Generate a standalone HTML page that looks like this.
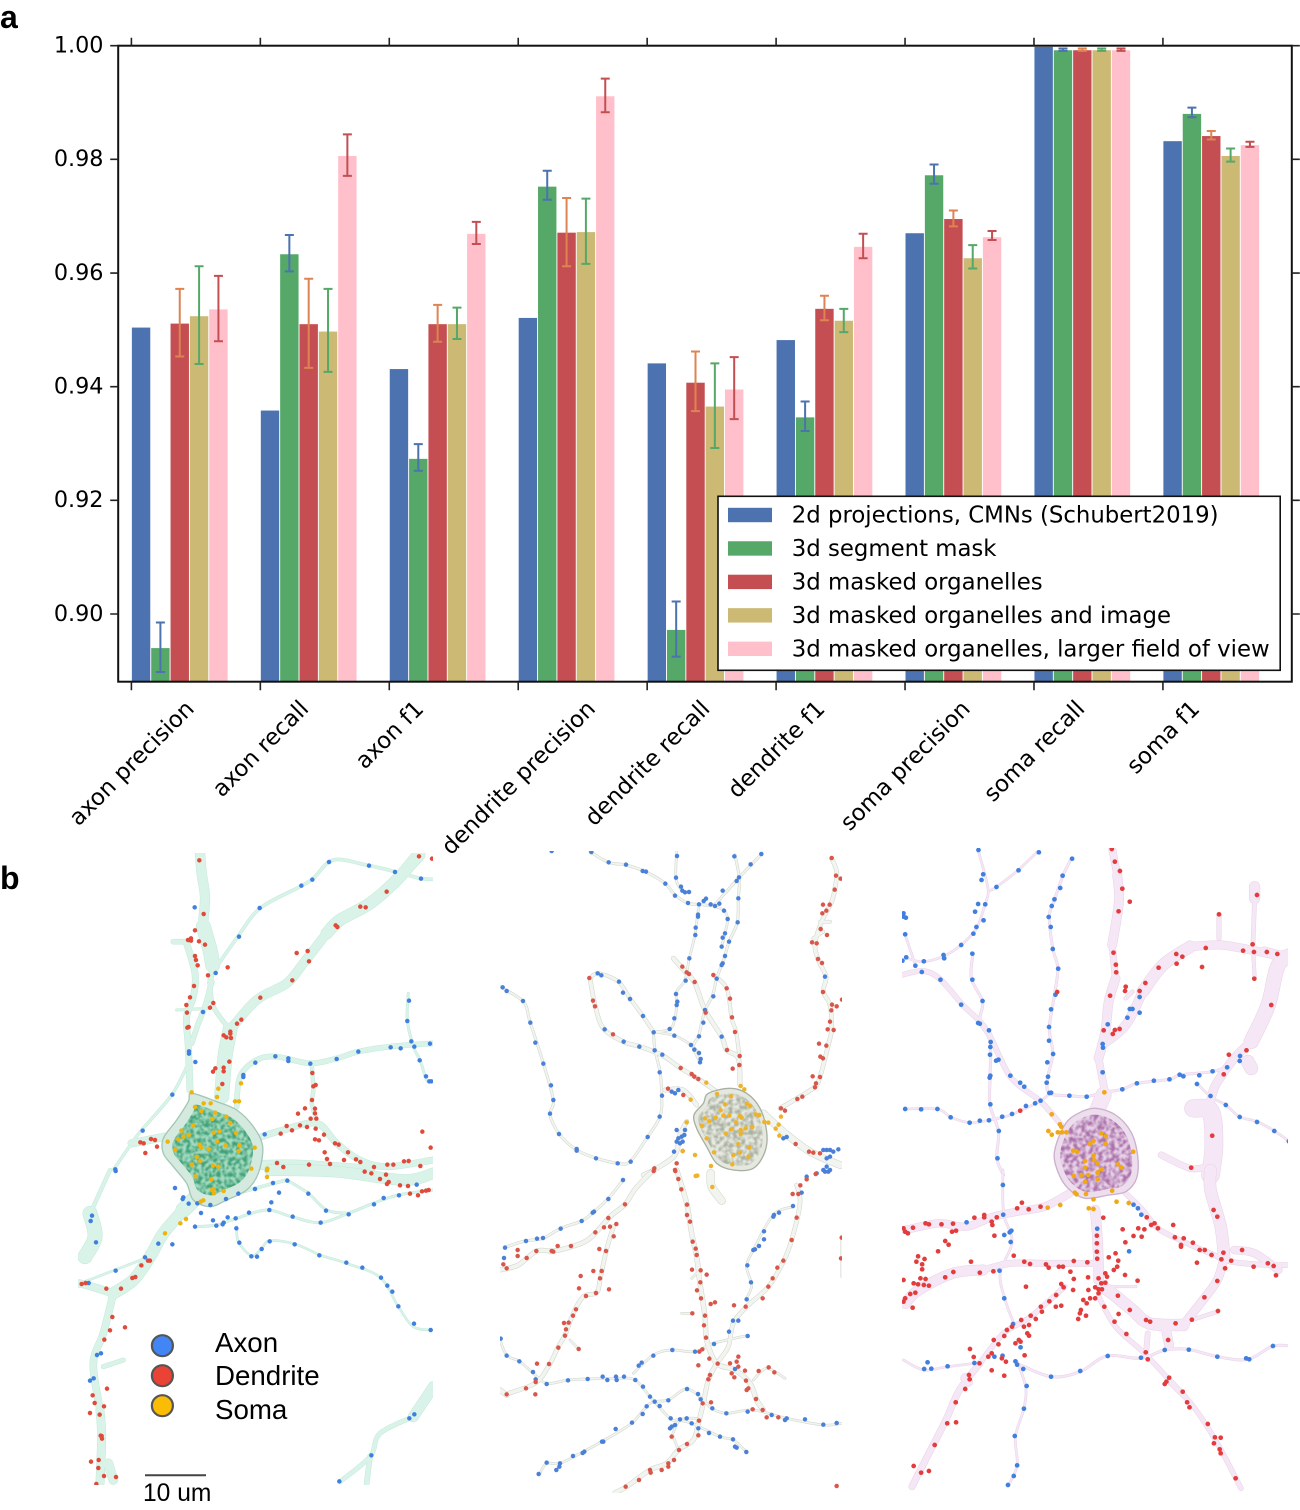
<!DOCTYPE html>
<html lang="en">
<head>
<meta charset="utf-8">
<title>Neuron compartment classification</title>
<style>
html,body{margin:0;padding:0;background:#fff;}
svg{display:block;}
text{font-family:"DejaVu Sans",sans-serif;fill:#000;}
.sans{font-family:"Liberation Sans",sans-serif;}
</style>
</head>
<body>
<svg id="fig" xmlns="http://www.w3.org/2000/svg" width="1300" height="1510" viewBox="0 0 1300 1510">
<defs>
<filter id="mottle" x="0" y="0" width="1" height="1">
<feTurbulence type="fractalNoise" baseFrequency="0.07" numOctaves="3" seed="4" result="n"/>
<feColorMatrix in="n" type="matrix" values="0 0 0 0 0 0 0 0 0 0 0 0 0 0 0 3.2 0 0 0 -1.15" result="a"/>
<feGaussianBlur in="a" stdDeviation="1.5" result="b"/>
<feComposite in="SourceGraphic" in2="b" operator="in"/>
</filter>
<clipPath id="clip-plot"><rect x="118" y="46" width="1174" height="636"/></clipPath>
<clipPath id="clip-p1"><rect x="78" y="853" width="355" height="632"/></clipPath>
<clipPath id="clip-p2"><rect x="500" y="851" width="342" height="642"/></clipPath>
<clipPath id="clip-p3"><rect x="902" y="848" width="386" height="643"/></clipPath>
</defs>
<rect width="1300" height="1510" fill="#fff"/>
<text class="sans" x="0" y="28" font-size="32" font-weight="700">a</text>
<text class="sans" x="0" y="889" font-size="32" font-weight="700">b</text>
<g id="chart"></g>
<g id="panels"></g>
<g>
<circle cx="162.4" cy="1345.7" r="10.5" fill="#4285f4" stroke="#555" stroke-width="2.2"/>
<circle cx="162.4" cy="1375.7" r="10.5" fill="#ea4335" stroke="#555" stroke-width="2.2"/>
<circle cx="162.4" cy="1405.7" r="10.5" fill="#fbbc05" stroke="#555" stroke-width="2.2"/>
<text class="sans" x="215" y="1352" font-size="27.7">Axon</text>
<text class="sans" x="215" y="1385" font-size="27.7">Dendrite</text>
<text class="sans" x="215" y="1419" font-size="27.7">Soma</text>
</g>
<line x1="145" x2="206" y1="1475.3" y2="1475.3" stroke="#444" stroke-width="2"/>
<text class="sans" x="143" y="1501" font-size="24.6">10 um</text>
</svg>
<script>
/* ---------- chart data ---------- */
const categories = ["axon precision","axon recall","axon f1","dendrite precision","dendrite recall","dendrite f1","soma precision","soma recall","soma f1"];
const seriesNames = ["2d projections, CMNs (Schubert2019)","3d segment mask","3d masked organelles","3d masked organelles and image","3d masked organelles, larger field of view"];
const yTickLabels = ["1.00","0.98","0.96","0.94","0.92","0.90"];
const projections2d = [0.9504,0.9358,0.9431,0.9521,0.9441,0.9482,0.9670,0.9998,0.9832];
const segmentMask = [0.8940,0.9633,0.9273,0.9752,0.8972,0.9346,0.9772,0.9992,0.9880];
const segmentMaskHigh = [0.8985,0.9667,0.9299,0.9780,0.9022,0.9374,0.9791,0.9995,0.9891];
const segmentMaskLow = [0.8898,0.9603,0.9252,0.9729,0.8925,0.9322,0.9757,0.9991,0.9874];
const maskedOrganelles = [0.9511,0.9510,0.9510,0.9671,0.9407,0.9537,0.9695,0.9992,0.9841];
const maskedOrganellesHigh = [0.9572,0.9590,0.9544,0.9732,0.9462,0.9560,0.9710,0.9995,0.9850];
const maskedOrganellesLow = [0.9453,0.9433,0.9479,0.9612,0.9357,0.9517,0.9682,0.9991,0.9835];
const organellesImage = [0.9524,0.9497,0.9510,0.9672,0.9365,0.9516,0.9626,0.9992,0.9806];
const organellesImageHigh = [0.9612,0.9572,0.9539,0.9731,0.9441,0.9537,0.9649,0.9995,0.9819];
const organellesImageLow = [0.9440,0.9426,0.9484,0.9616,0.9292,0.9496,0.9608,0.9991,0.9796];
const largerField = [0.9536,0.9806,0.9669,0.9911,0.9395,0.9646,0.9663,0.9992,0.9825];
const largerFieldHigh = [0.9595,0.9844,0.9690,0.9942,0.9452,0.9669,0.9674,0.9995,0.9831];
const largerFieldLow = [0.9480,0.9771,0.9651,0.9883,0.9343,0.9626,0.9658,0.9991,0.9822];

const NS = "http://www.w3.org/2000/svg";
const chart = document.getElementById("chart");
function mk(tag, parent, attrs){
  const e = document.createElementNS(NS, tag);
  for (const k in attrs) e.setAttribute(k, attrs[k]);
  parent.appendChild(e);
  return e;
}
const plotL = 118.2, plotR = 1291.8, plotT = 45.7, plotB = 681.7;
const yMax = 1, pxPerUnit = 5683;
const groupStart = 131.4, groupStep = 128.94, barStep = 19.34, barW = 18.4;
const tickFont = 22.3, xLabelFont = 22.8, legendFont = 22.8;
function yScale(v){ return plotT + (yMax - v) * pxPerUnit; }
function xBand(g, s){ return groupStart + g * groupStep + (s + 0.5) * barStep; }

const seriesSet = [
  {values:projections2d, color:"#4C72B0"},
  {values:segmentMask, high:segmentMaskHigh, low:segmentMaskLow, color:"#55A868", err:"#4C72B0"},
  {values:maskedOrganelles, high:maskedOrganellesHigh, low:maskedOrganellesLow, color:"#C44E52", err:"#DD8452"},
  {values:organellesImage, high:organellesImageHigh, low:organellesImageLow, color:"#CCB974", err:"#55A868"},
  {values:largerField, high:largerFieldHigh, low:largerFieldLow, color:"#FFC0CB", err:"#C44E52"}
];

const barsGroup = mk("g", chart, {"clip-path":"url(#clip-plot)"});


seriesSet.forEach(function(s){
  s.values.forEach(function(v, g){
    const si = seriesSet.indexOf(s);
    const cx = xBand(g, si);
    const r = mk("rect", barsGroup, {x:cx - barW/2, y:yScale(v), width:barW, height:plotB - yScale(v), fill:s.color});
    
    
  });
});
seriesSet.forEach(function(s, si){
  if (!s.high) return;
  s.values.forEach(function(v, g){
    const cx = xBand(g, si);
    const hi = yScale(s.high[g]), lo = yScale(s.low[g]);
    const eb = mk("path", barsGroup, {d:"M"+(cx-4.5)+" "+hi+"H"+(cx+4.5)+"M"+cx+" "+hi+"V"+lo+"M"+(cx-4.5)+" "+lo+"H"+(cx+4.5), fill:"none", stroke:s.err, "stroke-width":2});
    
    
  });
});

const spines = mk("rect", chart, {x:plotL, y:plotT, width:plotR-plotL, height:plotB-plotT, fill:"none", stroke:"#111", "stroke-width":2});



yTickLabels.forEach(function(lbl){
  const y = yScale(parseFloat(lbl));
  const t1 = mk("path", chart, {d:"M"+(plotL-8)+" "+y+"H"+plotL+"M"+plotR+" "+y+"H"+(plotR+8), stroke:"#222", "stroke-width":1.6});
  
  
  const t = mk("text", chart, {x:103.5, y:y+6.8, "text-anchor":"end", "font-size":tickFont});
  t.textContent = lbl;
  
  
});

categories.forEach(function(c, g){
  const x = groupStart + g * groupStep;
  const tk = mk("path", chart, {d:"M"+x+" "+(plotT-8)+"V"+plotT+"M"+x+" "+plotB+"V"+(plotB+8.5), stroke:"#222", "stroke-width":1.6});
  
  
  const t = mk("text", chart, {"text-anchor":"middle", "font-size":xLabelFont, x:0, y:0});
  t.textContent = c;
  
  
  const L = t.getComputedTextLength();
  const half = (L + xLabelFont) * 0.7071 / 2;
  const cy = 696.5 + half;
  t.setAttribute("transform", "translate("+x+" "+cy+") rotate(-45) translate(0 7.8)");
});

const legend = mk("g", chart, {});


const legendBox = mk("rect", legend, {x:718, y:496.3, width:562.2, height:174, fill:"#fff", stroke:"#111", "stroke-width":1.6});


seriesNames.forEach(function(n, i){
  const cy = 515 + i * 33.45;
  const sw = mk("rect", legend, {x:728, y:cy-7.2, width:44, height:14.4, fill:seriesSet[i].color});
  
  
  const t = mk("text", legend, {x:791.8, y:cy+7.5, "font-size":legendFont});
  t.textContent = n;
  
  
});

/* ---------- neuron renderings (illustrative) ---------- */
const panels = [
 {name:"neuron-panel-green", clip:"clip-p1", edge:"#c2e9d8", body:"#d9f3e8", dot:13.5, blue:"#3f7fe0", red:"#df4a3a", yellow:"#eeb30c",
  soma:{outline:"365,730 440,755 500,780 550,830 578,890 565,970 530,1020 470,1050 420,1070 370,1050 350,1000 310,950 280,910 280,865 320,810 355,755",
        fill:"#d4eadf",stroke:"#a4c6b6",ox:432,oy:900,k:0.8,ifill:"#3fa076",base:"#a6dcc3"},
  crops:[
   {tx:70,ty:850,sx:1/3,
    tubes:[[28,"390,10 395,70 405,140 400,210"],[42,"400,230 420,300 428,345"],[14,"428,345 420,400"],[18,"350,280 375,370 370,440 350,500 355,590 360,720"],[14,"310,275 350,275"],[14,"425,395 405,470 385,520 365,580"],[42,"455,740 465,620 480,540"],[26,"480,540 560,450 650,400 700,340 770,250"],[34,"770,250 810,210 900,160 980,90 1040,20"],[12,"480,540 430,470 420,410"],[8,"440,350 500,265 570,175 690,110 730,85 790,30 890,45 975,65 1050,85 1090,88"],[14,"500,770 510,680 560,630 620,620 720,640 800,625 865,605 960,590 1090,580"],[6,"1015,430 1012,510 1030,590 1050,630 1070,690 1085,695"],[10,"725,640 730,720 725,760 740,810"],[18,"575,860 640,840 740,820 800,880 870,930 950,950 1090,930"],[28,"575,945 700,945 900,960"],[7,"130,960 185,880 215,840 305,735 355,640"],[22,"185,880 285,860"],[6,"320,480 420,475"],[30,"1000,70 1050,15"]],
    blue:"374,172 569,174 694,107 727,89 777,36 897,47 975,66 1053,86 507,260 437,369 399,486 357,604 357,611 376,636 307,734 218,842 136,958 584,853 520,675 520,681 556,638 616,619 655,625 655,633 721,641 800,627 865,605 962,592 992,595 1033,590 1080,581 1024,574 1012,513 1017,452 1049,631 1068,679 1078,694 1084,694",
    red:"388,31 1047,19 1086,26 950,125 871,170 887,172 797,226 802,231 401,192 375,241 354,270 363,265 363,272 387,274 405,284 375,318 378,330 383,346 473,352 414,376 372,408 360,442 349,465 351,488 430,459 420,473 352,533 356,531 514,509 501,521 481,545 481,551 461,556 469,562 483,564 571,443 667,391 717,334 713,303 680,309 478,635 461,653 461,664 436,655 429,665 457,702 727,669 730,709 737,705 726,750 735,776 705,775 684,791 722,806 739,806 735,790 711,831 690,826 650,828 632,851 666,841 737,836 762,854 735,868 747,871 795,880 806,884 834,907 764,907 771,927 780,942 822,930 858,928 871,936 912,951 952,944 970,944 1002,934 1016,933 1051,948 1057,845 1082,893 243,867 255,870 211,877 221,880 261,890 226,909 621,939 640,951 717,944",
    yellow:"365,727 445,716 441,741 513,700 495,754 507,754 375,771 401,760 422,760 394,783 436,788 427,807 469,800 369,826 334,842 449,844 431,848 341,860 356,855 325,868 293,875 315,900 481,819 498,849 441,874 388,884 393,893 416,897 467,886 508,885 506,903 554,893 380,921 391,933 366,944 429,947 445,950 544,956 592,956"},
   {tx:70,ty:1170,sx:1/3,
    tubes:[[44,"400,60 340,120"],[34,"340,120 280,190 240,260 190,330 130,370"],[22,"130,370 50,345 25,340"],[20,"130,370 100,490 70,580 90,720"],[24,"90,720 95,800 90,940"],[10,"120,0 70,110"],[42,"60,130 75,200 45,260"],[5,"30,340 135,300 225,265"],[6,"375,170 440,165 500,145 590,120 665,140 750,158 835,130 910,100 985,75 1090,60"],[5,"500,170 505,215 545,258 575,235 600,212 675,222 750,255 830,280 930,322 985,410 1030,470 1085,480"],[6,"650,30 715,70 770,120 835,130"],[8,"500,70 555,55 610,40 650,30"],[30,"1090,650 1030,740"],[12,"1030,740 930,790 900,860 810,935"],[14,"900,860 890,940"],[32,"600,0 800,5 1000,30 1090,10"],[12,"100,590 160,570"],[26,"115,880 130,930"]],
    blue:"137,3 315,54 340,82 338,87 356,101 382,100 421,105 393,129 468,87 505,71 555,57 609,39 627,68 652,32 715,71 768,122 836,133 912,103 941,84 987,76 1040,44 604,97 598,120 537,128 497,145 473,142 429,151 439,167 458,163 461,158 375,170 499,175 508,218 544,259 561,260 575,237 599,214 674,223 748,256 829,278 877,293 933,323 952,347 967,365 985,409 1032,461 1082,480 668,140 752,158 307,223 265,221 225,262 66,137 62,153 78,217 137,302 56,339 81,555 93,550 60,632 71,625 1018,745 1033,733 904,856 808,934",
    red:"884,5 904,10 948,14 930,27 956,36 951,42 990,46 1014,48 1020,71 1044,76 1056,64 1068,62 1076,60 240,272 234,272 214,286 196,321 187,324 35,342 47,339 109,356 153,356 127,441 165,472 120,481 103,509 111,656 68,676 74,699 102,709 60,729 89,734 92,797 95,798 96,806 63,875 86,870 85,894 102,918 138,921 79,942",
    yellow:"377,19 424,28 430,57 426,60 432,70 461,63 591,1 591,21 392,95 400,91 348,147 331,160 285,190"}
  ]},
 {name:"neuron-panel-grey", clip:"clip-p2", edge:"#ccd3c8", body:"#f1f4ef", dot:13.5, blue:"#4a80d8", red:"#d9574a", yellow:"#eeb32a",
  soma:{outline:"655,745 720,730 770,745 810,790 830,860 825,920 790,970 730,975 680,955 650,905 620,850 612,810 640,775",
        fill:"#e4e8de",stroke:"#a8b0a2",ox:722,oy:855,k:0.88,ifill:"#a9b0a0",base:"#e8ebe3"},
  crops:[
   {tx:490,ty:845,sx:1/3,
    tubes:[[6,"30,425 100,470 120,530 160,655 190,765 180,810 210,870 260,915 320,940 385,955 420,950 470,880 510,815 515,750 510,680 495,615 490,560"],[6,"300,20 355,52 408,60 465,80 525,115 555,150 595,175 628,178 670,180 700,150 745,100 815,27"],[5,"560,20 558,100 575,135 597,142"],[5,"628,178 622,215 615,270 598,340 585,405 560,440 560,480 555,520 540,552 490,562"],[6,"735,30 748,100 745,160 742,232 717,290 705,332 695,360 680,400 668,450 645,495 635,535 625,575 610,605 630,650"],[5,"660,180 700,195 713,222 705,265 695,305"],[9,"300,400 325,385 385,410 420,460 460,515 490,560"],[11,"300,400 315,480 340,550 400,590 450,605 515,630 570,668 625,702 680,740"],[12,"550,340 590,385 615,415 645,495 695,575 710,615 745,640 750,720"],[9,"670,390 710,430 725,520 738,560 748,630"],[5,"490,560 553,572 603,600 627,625"],[11,"870,790 930,755 975,725 990,695 1015,600 1025,550 1020,480 1000,440 1008,395 985,345 975,295 995,230 1025,170 1035,130 1040,80 1025,40"],[20,"820,805 880,860 960,920 1050,960"],[12,"525,735 580,735 620,780"],[12,"590,830 570,870 555,930 500,970 460,990"],[8,"990,230 1020,230"],[8,"970,280 1000,260"]],
    blue:"185,18 304,21 356,52 408,59 458,78 468,80 526,116 555,152 594,174 627,178 561,33 558,98 573,125 577,137 585,142 597,141 641,168 648,161 662,178 675,183 688,176 698,137 740,108 747,97 782,58 814,27 733,34 702,197 713,222 624,209 624,215 617,248 616,270 598,340 705,265 698,278 717,290 695,305 705,333 698,355 695,360 745,160 743,232 680,401 670,454 645,495 640,533 627,574 553,520 562,470 560,480 558,447 587,407 38,427 50,438 99,468 121,533 136,593 160,656 183,721 190,765 180,806 207,867 260,912 260,917 318,940 383,955 422,950 473,876 509,815 516,752 509,682 494,616 517,629 491,562 539,552 553,572 603,600 613,614 627,624 632,642 630,652 695,575 323,385 334,391 387,410 399,443 420,462 459,513 344,553 401,590 448,605 545,740 555,745 565,735 585,855 560,855 565,880 575,875 583,870 560,890 570,895 552,920 578,890 1000,915 1010,915 1020,915 1030,920 1045,913 1010,940 1020,935 1010,965 1000,975 1020,975 890,876 880,880 1005,395",
    red:"1025,39 1038,92 1052,101 1034,134 1019,179 999,179 997,205 1009,197 992,252 1011,270 966,292 980,295 984,342 996,354 999,441 1026,479 1040,484 1024,496 1056,464 1020,530 1013,553 1031,555 987,596 1009,602 991,635 999,640 968,694 990,696 978,715 975,727 937,755 922,762 885,797 873,790 577,365 590,382 597,387 614,411 670,390 710,430 720,461 726,517 735,561 749,633 748,660 728,671 711,615 647,503 298,399 309,467 315,484 369,568 572,669 605,687 613,695 625,702 534,731 580,750 917,897 957,920 990,925 970,923 493,970 555,975 560,955 578,918",
    yellow:"649,713 752,723 763,733 681,747 723,754 770,776 780,783 692,796 705,778 797,808 808,810 658,829 645,820 677,818 700,812 718,812 750,813 755,818 738,832 767,850 787,846 752,855 723,853 708,866 752,867 745,897 778,908 750,923 730,930 672,922 663,963 727,958 775,935 650,880 636,843 590,832 602,764 823,831 835,833 873,815 857,851 866,839 578,918 615,930 868,872 617,993"},
   {tx:490,ty:1170,sx:1/3,
    tubes:[[6,"400,30 355,85 310,127 275,153 212,175 158,205 105,213 45,232"],[12,"490,0 437,55 405,103 360,140 300,205 245,230 190,243 140,243 85,285 30,300"],[11,"370,170 348,245 330,330 320,368 280,380 250,430 225,495 205,530 175,590 135,640 50,672"],[5,"30,510 50,555 90,575 130,610 170,640 235,630 295,627 380,625 435,630 480,680 540,745 565,750 605,760 690,800 730,810 770,846"],[13,"560,0 590,100 605,190 620,260 630,340 645,440 650,510 680,580 735,600 780,640 800,690 820,720"],[12,"680,580 655,630 640,700 625,760 610,810 565,840 530,880 480,900 410,950 375,968"],[11,"920,45 930,100 905,210 880,275 835,350 770,410 730,460 715,530 680,580"],[5,"910,110 850,135 790,240 770,290 785,345 770,385"],[5,"150,910 170,880 210,880 280,845 335,815 425,760 480,700 535,690 590,657 640,690 665,715 710,730 790,720 890,745 1000,765 1055,760"],[5,"430,610 490,555 545,540 615,545 670,520 770,497"],[5,"545,800 570,750 620,745"],[5,"550,800 565,840"],[22,"662,10 665,50 695,92"],[4,"1055,200 1055,320"],[5,"790,630 830,595 885,625"],[5,"620,310 605,325"],[5,"605,430 575,430"],[14,"30,660 50,675"],[5,"240,510 266,537"]],
    blue:"399,30 355,87 312,125 308,128 275,153 212,176 159,204 141,206 108,213 45,233 42,264 32,506 50,557 88,574 129,606 137,628 170,642 234,631 293,627 338,620 352,630 378,620 380,630 402,620 436,630 459,650 480,680 494,695 509,708 535,691 591,657 624,672 632,688 667,715 709,730 773,725 470,709 458,732 426,758 377,777 336,815 340,815 283,845 278,849 249,858 210,880 208,890 199,900 170,878 146,912 542,745 605,760 570,748 590,745 555,765 545,770 540,775 625,775 657,789 690,800 729,808 735,830 740,833 769,846 490,557 455,578 446,587 547,540 615,545 672,522 717,485 729,452 745,452 773,498 735,597 770,388 783,337 772,286 790,240 795,238 807,228 822,208 822,184 852,135 850,140 867,128 909,108 935,68 950,20 980,10 1005,5 1015,5 845,735 890,745 885,750 945,748 1000,764 1040,759",
    red:"491,3 556,3 565,27 574,58 591,104 591,135 600,155 405,103 355,144 342,172 360,170 379,162 316,187 371,199 348,243 203,228 243,228 190,245 185,243 139,243 110,264 83,240 83,258 328,237 335,303 310,303 272,318 330,325 267,355 357,358 318,369 288,378 258,418 249,437 222,459 236,458 228,478 225,497 205,533 266,537 177,582 141,581 137,636 108,655 136,673 50,673 40,283 50,295 608,215 617,236 620,255 606,299 632,301 650,314 631,337 621,361 633,385 662,402 675,397 732,406 767,410 607,430 645,437 642,466 648,503 628,545 637,538 658,566 625,586 683,581 720,580 745,560 740,575 745,590 725,610 733,622 765,602 768,632 660,615 655,628 806,603 836,592 853,607 775,655 770,660 798,687 788,718 818,720 830,742 865,742 663,697 638,700 627,752 625,796 591,822 567,840 545,800 552,870 535,880 535,890 515,900 480,900 482,908 447,930 407,950 835,350 848,325 862,293 880,272 905,210 920,143 908,72 925,72 931,46 950,28 977,12 818,385 1055,203 1053,265 1040,948",
    yellow:"622,17 667,51"}
  ]},
 {name:"neuron-panel-purple", clip:"clip-p3", edge:"#e6d2e6", body:"#f5e7f5", dot:14, blue:"#3f7fe0", red:"#e23c3c", yellow:"#f0a818",
  soma:{outline:"590,790 650,810 695,860 715,930 712,1000 680,1040 630,1050 560,1060 510,1030 480,980 470,920 500,840 540,805",
        fill:"#eddeed",stroke:"#cdb0cd",ox:592,oy:925,k:0.86,ifill:"#a96fa9",base:"#e8d3e8"},
  crops:[
   {tx:895,ty:845,sx:400/1179,
    tubes:[[20,"640,10 655,90"],[26,"655,90 660,170 640,300"],[18,"640,300 650,400"],[26,"650,400 630,470 620,560 600,640"],[20,"600,640 620,750"],[44,"615,750 590,810"],[26,"610,600 680,540 730,440"],[34,"730,440 790,360 870,305"],[24,"870,305 960,300 1050,315 1130,330 1180,320"],[30,"1060,125 1060,160"],[11,"1060,160 1055,300"],[9,"1055,300 1060,400"],[12,"955,210 955,280"],[28,"1090,320 1125,330"],[42,"1180,325 1130,360 1100,480 1050,590"],[24,"1050,590 1000,640 945,720 930,770"],[38,"1040,650 1050,670"],[52,"880,790 930,800 940,900 930,990"],[18,"785,930 870,970 920,965"],[14,"20,390 80,378 130,400 200,480 270,555 340,695 430,770 490,840"],[5,"245,15 265,90 275,140 265,180 240,250 195,300 140,335 80,350 30,338"],[5,"420,20 360,78 300,125 275,140"],[6,"520,40 495,92 470,165 455,215 465,310 480,370 470,450 455,550 465,625 450,700 455,745 515,752 565,755 615,742 670,733 715,715 810,703 840,690 935,680 980,665"],[5,"30,792 125,792 165,817 220,833 280,825 345,808 430,767 455,745"],[6,"230,325 225,400 258,470 250,530 280,590 280,700 280,780 305,860 300,940 320,990"],[5,"890,715 930,755 975,780 1015,815 1067,830 1118,858 1162,890 1180,910"],[5,"30,270 60,360"],[14,"1172,100 1172,210"],[10,"680,460 700,440"]],
    blue:"246,15 424,22 364,76 299,126 522,41 494,92 487,129 470,163 462,183 453,216 459,246 465,312 481,371 473,449 460,493 454,546 454,587 466,627 449,652 451,695 447,713 455,744 460,743 514,752 565,755 670,733 713,715 763,707 809,703 839,689 850,694 897,691 936,679 890,717 930,753 975,780 1016,816 1067,831 1118,858 1161,889 30,792 77,793 125,792 164,817 220,833 250,827 277,826 316,815 345,807 386,783 413,775 429,767 260,88 255,105 266,178 245,177 236,200 261,226 240,246 231,266 195,300 143,330 145,340 85,349 33,337 22,347 60,362 79,381 134,404 195,479 245,534 250,536 277,556 282,591 281,606 280,629 298,647 305,644 340,692 369,713 381,725 281,692 279,698 281,778 306,858 302,940 228,326 228,404 258,468 30,268 25,205 25,215 32,218 612,597 613,608 627,538 685,518 692,492 700,492 721,503 721,456 612,682 1017,633 1016,648 979,667",
    red:"639,12 648,50 663,78 670,131 692,170 659,199 644,323 651,359 652,382 680,425 678,438 721,438 738,414 777,368 829,327 830,356 847,335 905,366 916,309 1026,317 1054,298 1058,321 1096,321 1127,327 1067,150 955,208 1059,401 634,452 615,556 642,567 648,555 662,552 478,441 369,797 1109,480 1036,616 984,629 969,688 935,872 873,968",
    yellow:"617,742 462,808 486,838 490,845 452,858 480,862 462,869 492,862 505,862 608,865 621,874 575,897 585,888 621,897 525,917 537,921 585,932 560,948 587,945 597,955 560,968 610,973 657,958 667,968 598,982 702,920"},
   {tx:895,ty:1170,sx:400/1179,
    tubes:[[22,"515,70 440,110 360,125 290,140 210,170 130,160 30,180"],[14,"680,70 730,120 775,175 850,215 930,250 990,275 1100,285 1170,285"],[28,"590,120 595,180 600,280 600,330"],[34,"610,350 640,370 700,420 750,460 850,465"],[24,"850,465 900,400 950,330 970,260"],[34,"970,260 960,170 930,60 930,0"],[22,"1000,240 1060,250 1130,300"],[30,"30,400 70,360 170,310 260,300"],[18,"260,300 340,280 450,280 590,280"],[13,"600,380 650,470 730,545 800,620 880,710 950,820 1020,955"],[14,"500,350 400,440 320,490 250,580"],[18,"250,580 190,660 150,750 100,850 50,950"],[5,"318,0 320,130 345,215 310,310 325,390 350,460"],[5,"25,570 85,600 155,590 235,580"],[6,"360,580 460,620 545,605 625,558 725,565 795,540 865,538 950,560 1040,568 1115,528 1180,530"],[5,"360,575 385,650 380,715 355,800 360,885 335,945"],[14,"740,550 745,490"],[26,"800,485 808,525"],[10,"875,450 950,425"],[28,"208,625 215,635"],[8,"810,640 860,690"],[6,"640,350 710,350"]],
    blue:"318,45 703,104 716,115 726,134 596,176 319,134 211,157 343,182 338,187 322,195 341,216 308,302 322,385 348,462 370,532 317,557 293,560 234,579 96,577 86,597 107,596 155,589 355,574 360,584 378,597 388,648 380,716 353,798 360,886 350,918 333,945 460,620 546,603 627,558 725,563 795,540 866,539 950,560 1035,565 1044,568 1114,528 690,244",
    red:"374,98 394,118 360,115 429,110 263,135 263,142 300,142 285,155 287,165 234,143 171,161 137,163 100,163 90,160 53,173 168,185 180,182 25,175 30,185 38,190 293,197 148,213 158,224 127,244 68,259 87,267 63,275 80,283 80,298 90,327 75,325 55,340 68,343 85,345 100,347 60,368 45,372 30,385 25,395 52,413 25,330 148,322 172,306 250,308 290,304 224,275 350,257 381,275 398,282 445,283 453,293 483,290 495,290 527,273 567,277 517,305 527,327 569,322 596,266 595,245 595,220 595,197 614,143 650,250 630,262 658,272 655,290 645,300 625,320 600,325 608,340 620,338 590,352 570,360 600,358 525,360 490,342 497,352 475,375 455,394 474,410 490,407 430,410 433,425 415,447 400,437 395,465 380,470 372,450 345,470 330,480 322,498 305,523 291,510 355,520 365,510 370,515 390,490 395,497 285,550 275,560 221,537 232,561 249,580 327,575 315,565 285,601 322,617 382,556 386,350 218,615 220,628 207,657 179,697 154,760 180,757 117,825 55,888 77,908 100,903 671,178 717,175 703,198 727,200 735,178 742,142 765,160 775,175 755,165 679,217 820,165 825,202 851,205 843,225 843,230 878,218 898,240 913,240 933,255 968,248 962,268 991,272 1023,240 973,295 1057,290 1099,280 1116,288 1172,285 1123,316 890,278 950,333 912,382 952,423 875,449 827,460 752,455 740,450 657,377 617,410 692,420 659,432 647,455 682,492 739,547 745,568 808,623 800,635 795,642 848,665 861,697 868,712 922,762 943,802 960,803 940,820 957,838 960,850 1004,925 805,510 939,120 950,140 678,315 715,332 555,390 565,400 548,420 545,430 563,437 540,447 575,385 590,385 600,370 610,358 620,310",
    yellow:"527,18 570,15 549,15 597,8 598,28 560,35 530,68 535,73 563,72 640,62 653,95 689,99 585,88 571,115 585,117 487,105 450,113"}
  ]}
];

function pts(s){ return s.trim().split(/\s+/).map(function(p){ return p.split(",").map(Number); }); }
function smooth(a){
  let d = "M" + a[0][0] + " " + a[0][1];
  for (let i = 0; i < a.length - 1; i++){
    const p0 = a[Math.max(i-1,0)], p1 = a[i], p2 = a[i+1], p3 = a[Math.min(i+2,a.length-1)];
    const c1x = p1[0] + (p2[0]-p0[0])/6, c1y = p1[1] + (p2[1]-p0[1])/6;
    const c2x = p2[0] - (p3[0]-p1[0])/6, c2y = p2[1] - (p3[1]-p1[1])/6;
    d += "C" + c1x.toFixed(1) + " " + c1y.toFixed(1) + " " + c2x.toFixed(1) + " " + c2y.toFixed(1) + " " + p2[0] + " " + p2[1];
  }
  return d;
}
function smoothClosed(a){
  const n = a.length;
  let d = "M" + a[0][0] + " " + a[0][1];
  for (let i = 0; i < n; i++){
    const p0 = a[(i-1+n)%n], p1 = a[i], p2 = a[(i+1)%n], p3 = a[(i+2)%n];
    const c1x = p1[0] + (p2[0]-p0[0])/6, c1y = p1[1] + (p2[1]-p0[1])/6;
    const c2x = p2[0] - (p3[0]-p1[0])/6, c2y = p2[1] - (p3[1]-p1[1])/6;
    d += "C" + c1x.toFixed(1) + " " + c1y.toFixed(1) + " " + c2x.toFixed(1) + " " + c2y.toFixed(1) + " " + p2[0] + " " + p2[1];
  }
  return d + "Z";
}
function dotsPath(s){
  return pts(s).map(function(p){ return "M" + p[0] + " " + p[1] + "h.01"; }).join("");
}
const panelsRoot = document.getElementById("panels");
panels.forEach(function(P){
  const pg = mk("g", panelsRoot, {"clip-path":"url(#"+P.clip+")"});
  
  
  P.crops.forEach(function(C){
    const g = mk("g", pg, {transform:"translate("+C.tx+" "+C.ty+") scale("+C.sx+" 0.33333)"});
    
    
    C.tubes.forEach(function(t){
      const out = mk("path", g, {d:smooth(pts(t[1])), fill:"none", stroke:P.edge, "stroke-width":t[0]+3, "stroke-linecap":"round", "stroke-linejoin":"round"});
      
      
    });
    C.tubes.forEach(function(t){
      const inn = mk("path", g, {d:smooth(pts(t[1])), fill:"none", stroke:P.body, "stroke-width":t[0], "stroke-linecap":"round", "stroke-linejoin":"round"});
      
      
    });
  });
  const S = P.soma, C0 = P.crops[0];
  const sg = mk("g", pg, {transform:"translate("+C0.tx+" "+C0.ty+") scale("+C0.sx+" 0.33333)"});
  
  
  const outline = smoothClosed(pts(S.outline));
  const e1 = mk("path", sg, {d:outline, fill:S.fill, stroke:S.stroke, "stroke-width":4});
  
  
  const coreT = "translate("+S.ox+" "+S.oy+") scale("+S.k+") translate("+(-S.ox)+" "+(-S.oy)+")";
  const e2 = mk("path", sg, {d:outline, fill:S.base, transform:coreT});
  
  
  const e3 = mk("path", sg, {d:outline, fill:S.ifill, transform:coreT, filter:"url(#mottle)"});
  
  
  P.crops.forEach(function(C){
    const g = mk("g", pg, {transform:"translate("+C.tx+" "+C.ty+") scale("+C.sx+" 0.33333)", fill:"none", "stroke-linecap":"round"});
    
    
    const db = mk("path", g, {d:dotsPath(C.blue), stroke:P.blue, "stroke-width":P.dot});
    
    
    const dr = mk("path", g, {d:dotsPath(C.red), stroke:P.red, "stroke-width":P.dot});
    
    
    const dy = mk("path", g, {d:dotsPath(C.yellow), stroke:P.yellow, "stroke-width":P.dot});
    
    
  });
});
</script>
</body>
</html>
